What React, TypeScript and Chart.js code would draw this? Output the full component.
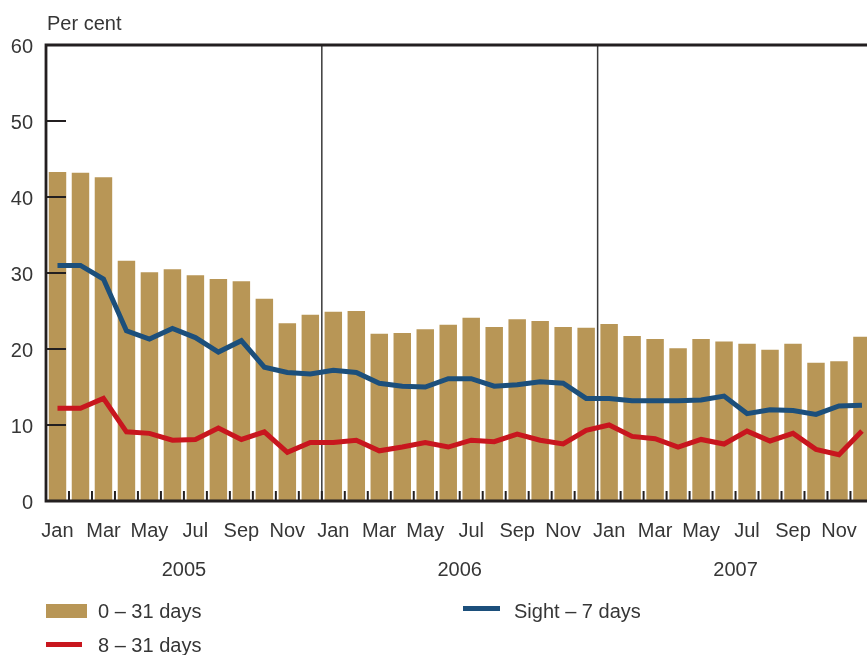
import React, { useEffect, useRef } from 'react';
import { Chart, registerables } from 'chart.js';

Chart.register(...registerables);

const monthNames = ['Jan', 'Feb', 'Mar', 'Apr', 'May', 'Jun', 'Jul', 'Aug', 'Sep', 'Oct', 'Nov', 'Dec'];
const years = ['2005', '2006', '2007'];
const categories = years.flatMap((y) => monthNames.map((m) => `${m} ${y}`));

const days0to31 = [
  43.3, 43.2, 42.6, 31.6, 30.1, 30.5, 29.7, 29.2, 28.9, 26.6, 23.4, 24.5,
  24.9, 25.0, 22.0, 22.1, 22.6, 23.2, 24.1, 22.9, 23.9, 23.7, 22.9, 22.8,
  23.3, 21.7, 21.3, 20.1, 21.3, 21.0, 20.7, 19.9, 20.7, 18.2, 18.4, 21.6,
];
const sightTo7 = [
  31.0, 31.0, 29.2, 22.4, 21.3, 22.7, 21.5, 19.6, 21.1, 17.6, 16.9, 16.7,
  17.2, 16.9, 15.5, 15.1, 15.0, 16.1, 16.1, 15.1, 15.3, 15.7, 15.5, 13.5,
  13.5, 13.2, 13.2, 13.2, 13.3, 13.8, 11.5, 12.0, 11.9, 11.4, 12.5, 12.6,
];
const days8to31 = [
  12.2, 12.2, 13.5, 9.1, 8.9, 8.0, 8.1, 9.6, 8.1, 9.1, 6.4, 7.7,
  7.7, 8.0, 6.6, 7.1, 7.7, 7.1, 8.0, 7.8, 8.8, 8.0, 7.5, 9.3,
  10.0, 8.5, 8.2, 7.1, 8.1, 7.5, 9.2, 7.9, 8.9, 6.8, 6.1, 9.2,
];
const yTicks = [0, 10, 20, 30, 40, 50, 60];

const FONT = "'Liberation Sans', Arial, sans-serif";
const TEXT = '#363636';
const AXIS = '#231f20';
const GOLD = '#b89656';
const BLUE = '#1c4f7b';
const RED = '#c8161e';

const framePlugin = {
  id: 'frame',
  beforeDatasetsDraw(chart: any) {
    const { ctx, chartArea, scales } = chart;
    const x = scales.x;
    ctx.save();
    ctx.strokeStyle = '#3a3a3a';
    ctx.lineWidth = 1.5;
    for (let y = 1; y < years.length; y++) {
      const px = (x.getPixelForValue(y * 12 - 1) + x.getPixelForValue(y * 12)) / 2;
      ctx.beginPath();
      ctx.moveTo(px, chartArea.top);
      ctx.lineTo(px, chartArea.bottom);
      ctx.stroke();
    }
    ctx.restore();
  },
  afterDatasetsDraw(chart: any) {
    const { ctx, chartArea, scales } = chart;
    const x = scales.x;
    const yS = scales.y;
    ctx.save();
    ctx.strokeStyle = AXIS;
    ctx.lineCap = 'butt';
    ctx.lineWidth = 2;
    yTicks.forEach((v) => {
      if (v === 0 || v === 60) return;
      const py = Math.round(yS.getPixelForValue(v));
      ctx.beginPath();
      ctx.moveTo(chartArea.left, py);
      ctx.lineTo(chartArea.left + 20, py);
      ctx.stroke();
    });
    for (let i = 1; i < categories.length; i++) {
      const px = (x.getPixelForValue(i - 1) + x.getPixelForValue(i)) / 2;
      ctx.beginPath();
      ctx.moveTo(px, chartArea.bottom);
      ctx.lineTo(px, chartArea.bottom - 10);
      ctx.stroke();
    }
    ctx.lineWidth = 2.8;
    ctx.beginPath();
    ctx.moveTo(chartArea.right, chartArea.top);
    ctx.lineTo(chartArea.left, chartArea.top);
    ctx.lineTo(chartArea.left, chartArea.bottom);
    ctx.lineTo(chartArea.right, chartArea.bottom);
    ctx.lineTo(chartArea.right, chartArea.top);
    ctx.stroke();
    ctx.restore();
  },
  afterDraw(chart: any) {
    const { ctx, scales } = chart;
    const x = scales.x;
    ctx.save();
    ctx.font = `20px ${FONT}`;
    ctx.fillStyle = TEXT;
    ctx.textAlign = 'center';
    ctx.textBaseline = 'middle';
    years.forEach((yr, y) => {
      const px = (x.getPixelForValue(y * 12 + 5) + x.getPixelForValue(y * 12 + 6)) / 2;
      ctx.fillText(yr, px, 570);
    });
    ctx.restore();
  },
};

export default function App() {
  const ref = useRef<HTMLCanvasElement | null>(null);

  useEffect(() => {
    if (!ref.current) return;
    const chart = new Chart(ref.current, {
      type: 'bar',
      data: {
        labels: categories,
        datasets: [
          {
            type: 'line',
            label: '8 – 31 days',
            data: days8to31,
            borderColor: RED,
            borderWidth: 5,
            pointRadius: 0,
            tension: 0,
            order: 1,
          },
          {
            type: 'line',
            label: 'Sight – 7 days',
            data: sightTo7,
            borderColor: BLUE,
            borderWidth: 5,
            pointRadius: 0,
            tension: 0,
            order: 2,
          },
          {
            type: 'bar',
            label: '0 – 31 days',
            data: days0to31,
            backgroundColor: GOLD,
            borderWidth: 0,
            categoryPercentage: 1,
            barPercentage: 0.76,
            order: 3,
          },
        ],
      },
      options: {
        responsive: false,
        animation: false,
        layout: { padding: { top: 45, right: 3, left: 0, bottom: 0 } },
        plugins: { legend: { display: false }, tooltip: { enabled: false } },
        scales: {
          x: {
            grid: { display: false, drawTicks: false },
            border: { display: false },
            ticks: {
              autoSkip: false,
              maxRotation: 0,
              minRotation: 0,
              padding: 18,
              color: TEXT,
              font: { family: FONT, size: 20 },
              callback: (_v: any, i: number) => (i % 2 === 0 ? monthNames[i % 12] : ''),
            },
            afterFit: (s: any) => {
              s.height = 154;
            },
          },
          y: {
            min: 0,
            max: 60,
            grid: { display: false, drawTicks: false },
            border: { display: false },
            ticks: {
              stepSize: 10,
              padding: 13,
              labelOffset: 2,
              color: TEXT,
              font: { family: FONT, size: 20 },
            },
            afterFit: (s: any) => {
              s.width = 46;
            },
          },
        },
      },
      plugins: [framePlugin],
    });
    return () => chart.destroy();
  }, []);

  const textStyle: React.CSSProperties = {
    position: 'absolute',
    fontFamily: FONT,
    fontSize: 20,
    lineHeight: '22px',
    color: TEXT,
    whiteSpace: 'nowrap',
  };

  return (
    <div
      style={{
        position: 'fixed',
        left: 0,
        top: 0,
        width: 867,
        height: 655,
        overflow: 'hidden',
        background: '#fff',
      }}
    >
      <canvas ref={ref} width={880} height={655} style={{ position: 'absolute', left: 0, top: 0 }} />
      <div style={{ ...textStyle, left: 47, top: 12 }}>Per cent</div>
      <div style={{ position: 'absolute', left: 46, top: 604, width: 41, height: 14, background: GOLD }} />
      <div style={{ ...textStyle, left: 98, top: 600 }}>0 – 31 days</div>
      <div style={{ position: 'absolute', left: 463, top: 606, width: 37, height: 5, background: BLUE }} />
      <div style={{ ...textStyle, left: 514, top: 600 }}>Sight – 7 days</div>
      <div style={{ position: 'absolute', left: 46, top: 642, width: 36, height: 5, background: RED }} />
      <div style={{ ...textStyle, left: 98, top: 634 }}>8 – 31 days</div>
    </div>
  );
}
